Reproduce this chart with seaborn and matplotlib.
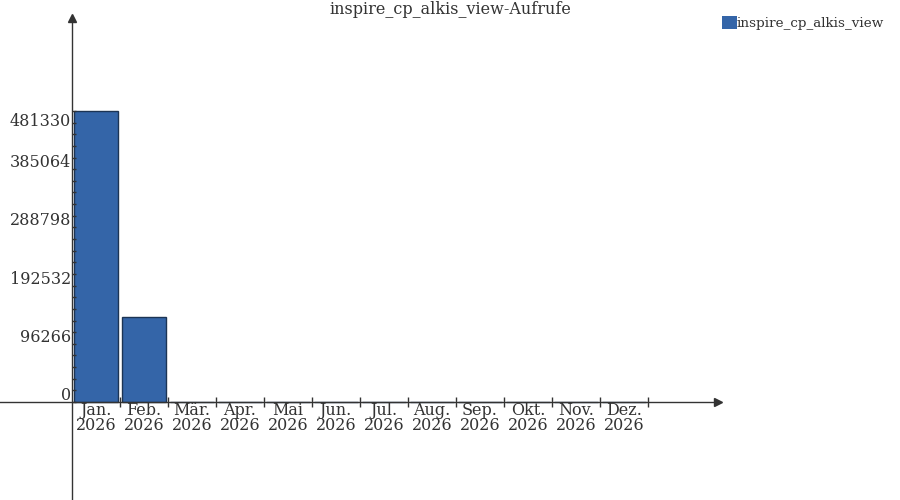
import numpy as np
import pandas as pd
import seaborn as sns
import matplotlib.pyplot as plt
import matplotlib.transforms as mtrans
from matplotlib.ticker import FixedLocator

# Daten
monate = ["Jan.", "Feb.", "Mär.", "Apr.", "Mai", "Jun.",
          "Jul.", "Aug.", "Sep.", "Okt.", "Nov.", "Dez."]
jahr = "2026"
aufrufe = [481330, 140600, 0, 0, 0, 0, 0, 0, 0, 0, 0, 0]
serie = "inspire_cp_alkis_view"
titel = "inspire_cp_alkis_view-Aufrufe"

df = pd.DataFrame({"monat": [m + "\n" + jahr for m in monate], "aufrufe": aufrufe})

sns.set_style("white")
plt.rcParams["font.family"] = ["DejaVu Serif"]
textfarbe = "#333333"

fig = plt.figure(figsize=(9, 5), dpi=100)
ax = fig.add_axes([0, 0, 1, 1])
ax.set_axisbelow(False)

sns.barplot(data=df, x="monat", y="aufrufe", color="#3465a8", saturation=1,
            edgecolor="#1c3454", linewidth=1, width=0.9, label=serie, ax=ax)

# Achsenbereich: y-Achse bei x=-0.5, Nulllinie bei 402 px
ymax = max(aufrufe)
px = ymax / 291.0
ax.set_xlim(-2.0, 16.75)
ax.set_ylim(-98 * px, 402 * px)

for s in ["top", "right"]:
    ax.spines[s].set_visible(False)
ax.spines["left"].set_position(("data", -0.5))
ax.spines["bottom"].set_position(("data", 0))
ax.spines["left"].set_bounds(-98 * px, 383 * px)
ax.spines["bottom"].set_bounds(-2.0, 12.85)
for s in ["left", "bottom"]:
    ax.spines[s].set_color(textfarbe)
    ax.spines[s].set_linewidth(1)
    ax.spines[s].set_zorder(5)

# Pfeile
ax.plot([12.95], [0], marker=">", color=textfarbe, markersize=6, clip_on=False)
ax.plot([-0.5], [384 * px], marker="^", color=textfarbe, markersize=6, clip_on=False)

# y-Ticks
yticks = np.arange(6) * ymax / 5
ax.set_yticks(yticks)
ax.set_yticklabels([f"{int(round(v))}" for v in yticks])
ax.yaxis.set_minor_locator(FixedLocator(np.arange(1, 25) * ymax / 25))
ax.tick_params(axis="y", which="major", direction="in", length=3, width=1,
               color=textfarbe, labelsize=11.5, labelcolor=textfarbe, pad=0.5, left=True)
ax.tick_params(axis="y", which="minor", direction="in", length=3, width=1,
               color=textfarbe, left=True)
versatz = mtrans.ScaledTranslation(0, -2 / 100, fig.dpi_scale_trans)
labels = ax.get_yticklabels()
for lab in labels[:-1]:
    lab.set_verticalalignment("bottom")
labels[-1].set_verticalalignment("top")
for lab in labels:
    lab.set_transform(lab.get_transform() + versatz)

# x-Ticks
ax.set_xlabel("")
ax.set_ylabel("")
ax.xaxis.set_minor_locator(FixedLocator(np.arange(len(monate)) + 0.5))
ax.tick_params(axis="x", which="major", length=0, labelsize=11.5,
               labelcolor=textfarbe, pad=0)
ax.tick_params(axis="x", which="minor", direction="inout", length=7, width=1,
               color=textfarbe, bottom=True)
for lab in ax.get_xticklabels():
    lab.set_linespacing(0.85)

fig.text(0.5, 0.982, titel, ha="center", va="center", fontsize=11.5, color=textfarbe)

leg = ax.legend(loc="upper left", bbox_to_anchor=(722 / 900, 1 - 16 / 500), frameon=False,
                handlelength=1.1, handleheight=1.1, handletextpad=0.0, borderpad=0,
                borderaxespad=0, fontsize=9.7, labelcolor=textfarbe)
for h in leg.legend_handles:
    h.set_edgecolor("none")

fig.savefig("out.png", dpi=100)
